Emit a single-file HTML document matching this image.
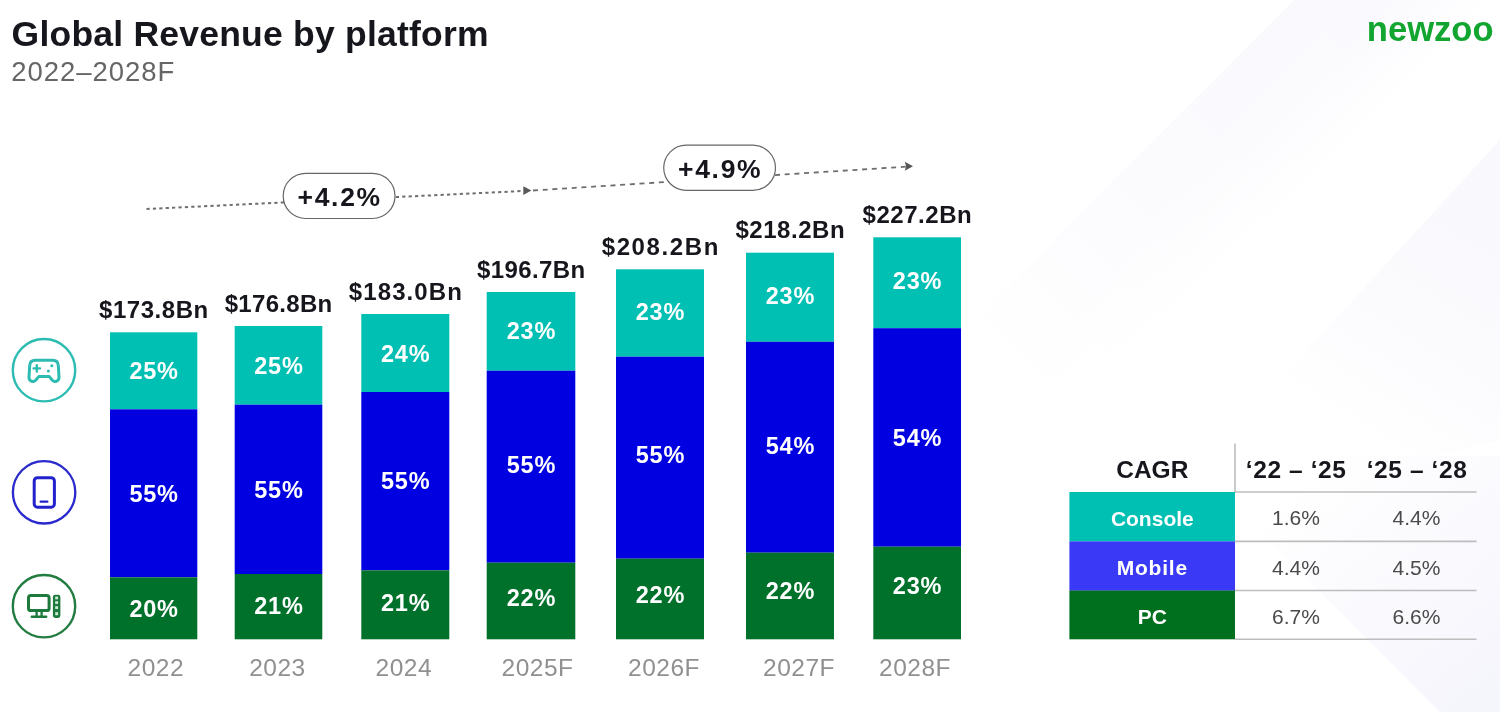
<!DOCTYPE html>
<html lang="en"><head><meta charset="utf-8"><title>Global Revenue by platform</title>
<style>
html,body{margin:0;padding:0;background:#fff;}
body{width:1500px;height:712px;overflow:hidden;font-family:"Liberation Sans",sans-serif;}
svg{display:block}
text{font-family:"Liberation Sans",sans-serif;}
.b{font-weight:700}
</style></head><body>
<svg width="1500" height="712" viewBox="0 0 1500 712">
<defs>
<linearGradient id="g1" gradientUnits="userSpaceOnUse" x1="1400" y1="0" x2="1010" y2="390"><stop offset="0" stop-color="#f9f9fe"/><stop offset="0.55" stop-color="#fbfbfe"/><stop offset="1" stop-color="#ffffff"/></linearGradient>
<linearGradient id="g2" gradientUnits="userSpaceOnUse" x1="1500" y1="150" x2="1330" y2="420"><stop offset="0" stop-color="#f8f8fd"/><stop offset="0.6" stop-color="#fbfbfe"/><stop offset="1" stop-color="#ffffff"/></linearGradient>
<linearGradient id="g3" gradientUnits="userSpaceOnUse" x1="1300" y1="480" x2="1480" y2="700"><stop offset="0" stop-color="#ffffff"/><stop offset="0.5" stop-color="#fafafe"/><stop offset="1" stop-color="#f5f5fc"/></linearGradient>
<linearGradient id="w1" gradientUnits="userSpaceOnUse" x1="1294" y1="0" x2="1394" y2="100"><stop offset="0" stop-color="#ffffff" stop-opacity="0"/><stop offset="0.45" stop-color="#ffffff" stop-opacity="0.15"/><stop offset="1" stop-color="#ffffff" stop-opacity="1"/></linearGradient>
</defs>
<rect width="1500" height="712" fill="#ffffff"/>
<polygon points="1294,0 1494,0 1092,402 892,402" fill="url(#g1)"/>
<polygon points="1293,0 1496,0 1094,402 891,402" fill="url(#w1)"/>
<polygon points="1500,140 1500,440 1380,470 1286,373" fill="url(#g2)"/>
<polygon points="1184,456 1440,712 1500,712 1500,456" fill="url(#g3)"/>

<text x="11.6" y="45.6" class="b" font-size="35.5" letter-spacing="0.22" fill="#16161d" id="title">Global Revenue by platform</text>
<text x="11.2" y="81.4" font-size="27.5" letter-spacing="0.95" fill="#666666" id="sub">2022–2028F</text>
<text x="1493.6" y="41" class="b" font-size="34.6" fill="#12a530" text-anchor="end" id="logo">newzoo</text>
<line x1="146.5" y1="209" x2="523" y2="191" stroke="#6e6e6e" stroke-width="2" stroke-dasharray="3.2 3.2"/>
<polygon points="523.3,186.2 531.4,190.6 523.3,195" fill="#5a5a5a"/>
<line x1="533" y1="190.5" x2="906" y2="166.7" stroke="#6e6e6e" stroke-width="1.8" stroke-dasharray="5 4.7"/>
<polygon points="904.7,161.8 913,166.3 904.7,170.8 906.2,166.3" fill="#555"/>
<rect x="283.2" y="173.3" width="111.8" height="45.2" rx="22.6" fill="#fff" stroke="#666" stroke-width="1.2"/>
<text x="339.7" y="206.4" class="b" font-size="26.5" fill="#16161d" text-anchor="middle" letter-spacing="1.7">+4.2%</text>
<rect x="663.7" y="145.2" width="111.8" height="45.2" rx="22.6" fill="#fff" stroke="#666" stroke-width="1.2"/>
<text x="720.2" y="178.4" class="b" font-size="26.5" fill="#16161d" text-anchor="middle" letter-spacing="1.7">+4.9%</text>
<rect x="110.0" y="332.3" width="87.3" height="77.0" fill="#00bfb3"/>
<rect x="110.0" y="409.3" width="87.3" height="168.0" fill="#0000e0"/>
<rect x="110.0" y="577.3" width="87.3" height="62.0" fill="#00712a"/>
<text x="153.9" y="317.9" class="b" font-size="24" fill="#16161d" text-anchor="middle" letter-spacing="0.55">$173.8Bn</text>
<text x="154.1" y="379.4" class="b" font-size="23.5" fill="#ffffff" text-anchor="middle" letter-spacing="0.8">25%</text>
<text x="154.1" y="502.0" class="b" font-size="23.5" fill="#ffffff" text-anchor="middle" letter-spacing="0.8">55%</text>
<text x="154.1" y="617.0" class="b" font-size="23.5" fill="#ffffff" text-anchor="middle" letter-spacing="0.8">20%</text>
<text x="155.8" y="676" font-size="24.5" fill="#909090" text-anchor="middle" letter-spacing="0.5">2022</text>
<rect x="234.7" y="326.0" width="87.6" height="78.7" fill="#00bfb3"/>
<rect x="234.7" y="404.7" width="87.6" height="169.3" fill="#0000e0"/>
<rect x="234.7" y="574.0" width="87.6" height="65.3" fill="#00712a"/>
<text x="278.6" y="311.6" class="b" font-size="24" fill="#16161d" text-anchor="middle" letter-spacing="0.3">$176.8Bn</text>
<text x="278.9" y="373.6" class="b" font-size="23.5" fill="#ffffff" text-anchor="middle" letter-spacing="0.8">25%</text>
<text x="278.9" y="497.8" class="b" font-size="23.5" fill="#ffffff" text-anchor="middle" letter-spacing="0.8">55%</text>
<text x="278.9" y="614.1" class="b" font-size="23.5" fill="#ffffff" text-anchor="middle" letter-spacing="0.8">21%</text>
<text x="277.5" y="676" font-size="24.5" fill="#909090" text-anchor="middle" letter-spacing="0.5">2023</text>
<rect x="361.3" y="314.0" width="88.0" height="78.0" fill="#00bfb3"/>
<rect x="361.3" y="392.0" width="88.0" height="178.3" fill="#0000e0"/>
<rect x="361.3" y="570.3" width="88.0" height="69.0" fill="#00712a"/>
<text x="405.9" y="299.6" class="b" font-size="24" fill="#16161d" text-anchor="middle" letter-spacing="1.1">$183.0Bn</text>
<text x="405.7" y="361.6" class="b" font-size="23.5" fill="#ffffff" text-anchor="middle" letter-spacing="0.8">24%</text>
<text x="405.7" y="488.8" class="b" font-size="23.5" fill="#ffffff" text-anchor="middle" letter-spacing="0.8">55%</text>
<text x="405.7" y="611.4" class="b" font-size="23.5" fill="#ffffff" text-anchor="middle" letter-spacing="0.8">21%</text>
<text x="403.8" y="676" font-size="24.5" fill="#909090" text-anchor="middle" letter-spacing="0.5">2024</text>
<rect x="486.7" y="292.0" width="88.6" height="78.7" fill="#00bfb3"/>
<rect x="486.7" y="370.7" width="88.6" height="192.0" fill="#0000e0"/>
<rect x="486.7" y="562.7" width="88.6" height="76.6" fill="#00712a"/>
<text x="531.2" y="277.6" class="b" font-size="24" fill="#16161d" text-anchor="middle" letter-spacing="0.4">$196.7Bn</text>
<text x="531.4" y="339.4" class="b" font-size="23.5" fill="#ffffff" text-anchor="middle" letter-spacing="0.8">23%</text>
<text x="531.4" y="473.2" class="b" font-size="23.5" fill="#ffffff" text-anchor="middle" letter-spacing="0.8">55%</text>
<text x="531.4" y="606.4" class="b" font-size="23.5" fill="#ffffff" text-anchor="middle" letter-spacing="0.8">22%</text>
<text x="537.5" y="676" font-size="24.5" fill="#909090" text-anchor="middle" letter-spacing="0.5">2025F</text>
<rect x="616.0" y="269.3" width="88.0" height="87.4" fill="#00bfb3"/>
<rect x="616.0" y="356.7" width="88.0" height="202.0" fill="#0000e0"/>
<rect x="616.0" y="558.7" width="88.0" height="80.6" fill="#00712a"/>
<text x="660.8" y="254.9" class="b" font-size="24" fill="#16161d" text-anchor="middle" letter-spacing="1.6">$208.2Bn</text>
<text x="660.4" y="319.6" class="b" font-size="23.5" fill="#ffffff" text-anchor="middle" letter-spacing="0.8">23%</text>
<text x="660.4" y="463.2" class="b" font-size="23.5" fill="#ffffff" text-anchor="middle" letter-spacing="0.8">55%</text>
<text x="660.4" y="603.4" class="b" font-size="23.5" fill="#ffffff" text-anchor="middle" letter-spacing="0.8">22%</text>
<text x="664.0" y="676" font-size="24.5" fill="#909090" text-anchor="middle" letter-spacing="0.5">2026F</text>
<rect x="746.0" y="252.7" width="88.0" height="89.1" fill="#00bfb3"/>
<rect x="746.0" y="341.8" width="88.0" height="210.9" fill="#0000e0"/>
<rect x="746.0" y="552.7" width="88.0" height="86.6" fill="#00712a"/>
<text x="790.3" y="238.3" class="b" font-size="24" fill="#16161d" text-anchor="middle" letter-spacing="0.55">$218.2Bn</text>
<text x="790.4" y="303.6" class="b" font-size="23.5" fill="#ffffff" text-anchor="middle" letter-spacing="0.8">23%</text>
<text x="790.4" y="454.4" class="b" font-size="23.5" fill="#ffffff" text-anchor="middle" letter-spacing="0.8">54%</text>
<text x="790.4" y="598.6" class="b" font-size="23.5" fill="#ffffff" text-anchor="middle" letter-spacing="0.8">22%</text>
<text x="799.0" y="676" font-size="24.5" fill="#909090" text-anchor="middle" letter-spacing="0.5">2027F</text>
<rect x="873.3" y="237.3" width="87.7" height="90.9" fill="#00bfb3"/>
<rect x="873.3" y="328.2" width="87.7" height="218.5" fill="#0000e0"/>
<rect x="873.3" y="546.7" width="87.7" height="92.6" fill="#00712a"/>
<text x="917.4" y="222.9" class="b" font-size="24" fill="#16161d" text-anchor="middle" letter-spacing="0.55">$227.2Bn</text>
<text x="917.5" y="289.4" class="b" font-size="23.5" fill="#ffffff" text-anchor="middle" letter-spacing="0.8">23%</text>
<text x="917.5" y="446.4" class="b" font-size="23.5" fill="#ffffff" text-anchor="middle" letter-spacing="0.8">54%</text>
<text x="917.5" y="594.4" class="b" font-size="23.5" fill="#ffffff" text-anchor="middle" letter-spacing="0.8">23%</text>
<text x="915.0" y="676" font-size="24.5" fill="#909090" text-anchor="middle" letter-spacing="0.5">2028F</text>
<g fill="none" stroke-linecap="round" stroke-linejoin="round">
<circle cx="44" cy="370.2" r="31.2" stroke="#2cbcb1" stroke-width="2.4"/>
<path d="M35.2 360.3 H52.8 Q57.8 360.3 58.3 365.4 L59 377.2 A3.9 3.9 0 0 1 52.3 380.2 L49.3 376.6 H38.7 L35.7 380.2 A3.9 3.9 0 0 1 29 377.2 L29.7 365.4 Q30.2 360.3 35.2 360.3 Z" stroke="#2cbcb1" stroke-width="3"/>
<path d="M33.6 368.4 h6.4 M36.8 365.2 v6.4" stroke="#2cbcb1" stroke-width="2.4"/>
<circle cx="51.8" cy="365.7" r="1.5" fill="#2cbcb1" stroke="none"/><circle cx="48.4" cy="371" r="1.5" fill="#2cbcb1" stroke="none"/>
<circle cx="44.1" cy="492.3" r="31.2" stroke="#2a2acc" stroke-width="2.3"/>
<rect x="34.2" y="477.7" width="20.2" height="29.5" rx="3.2" stroke="#2222cc" stroke-width="3"/>
<path d="M40.6 501.7 h6.8" stroke="#2222cc" stroke-width="2.2"/>
<circle cx="44" cy="606.2" r="31.2" stroke="#237d42" stroke-width="2.4"/>
<rect x="28.5" y="595.6" width="20.6" height="15" rx="2.4" stroke="#1e7a3c" stroke-width="3"/>
<path d="M36.6 612 v4 M41.6 612 v4" stroke="#1e7a3c" stroke-width="2.3" stroke-linecap="butt"/>
<path d="M31.8 616.7 h14.4" stroke="#1e7a3c" stroke-width="2.4"/>
<rect x="53.6" y="595.4" width="6.1" height="21.8" rx="1.6" fill="#1e7a3c" stroke="#1e7a3c" stroke-width="1.4"/>
<g fill="#cfe9d6" stroke="none"><rect x="55.2" y="596.6" width="2.9" height="2.7"/><rect x="55.2" y="601.2" width="2.9" height="2.7"/><rect x="55.2" y="606.2" width="2.9" height="2.8"/><rect x="55.2" y="612.2" width="2.9" height="3"/></g>
</g>
<g id="table">
<rect x="1069.4" y="492" width="165.6" height="49.5" fill="#00bfb3"/>
<rect x="1069.4" y="541.4" width="165.6" height="49.3" fill="#3a3af6"/>
<rect x="1069.4" y="590.5" width="165.6" height="48.8" fill="#00701f"/>
<g stroke="#bdbdbd" stroke-width="1.6">
<line x1="1235" y1="443.6" x2="1235" y2="492"/>
<line x1="1235" y1="492" x2="1476.5" y2="492"/>
<line x1="1235" y1="541.4" x2="1476.5" y2="541.4"/>
<line x1="1235" y1="590.5" x2="1476.5" y2="590.5"/>
<line x1="1235" y1="639.3" x2="1476.5" y2="639.3"/>
</g>
<text x="1152.3" y="477.8" class="b" font-size="24.5" fill="#16161d" text-anchor="middle">CAGR</text>
<text x="1296.2" y="477.8" class="b" font-size="24.5" fill="#16161d" text-anchor="middle" letter-spacing="0.6">‘22 – ‘25</text>
<text x="1417.1" y="477.8" class="b" font-size="24.5" fill="#16161d" text-anchor="middle" letter-spacing="0.6">‘25 – ‘28</text>
<text x="1152.3" y="525.5" class="b" font-size="21" fill="#ffffff" text-anchor="middle">Console</text>
<text x="1152.3" y="574.5" class="b" font-size="21" fill="#ffffff" text-anchor="middle" letter-spacing="0.8">Mobile</text>
<text x="1152.3" y="623.5" class="b" font-size="21" fill="#ffffff" text-anchor="middle">PC</text>
<g font-size="21" fill="#4a4a4a" text-anchor="middle">
<text x="1296" y="525">1.6%</text><text x="1416.5" y="525">4.4%</text>
<text x="1296" y="574.5">4.4%</text><text x="1416.5" y="574.5">4.5%</text>
<text x="1296" y="623.5">6.7%</text><text x="1416.5" y="623.5">6.6%</text>
</g>
</g>
</svg>
</body></html>
